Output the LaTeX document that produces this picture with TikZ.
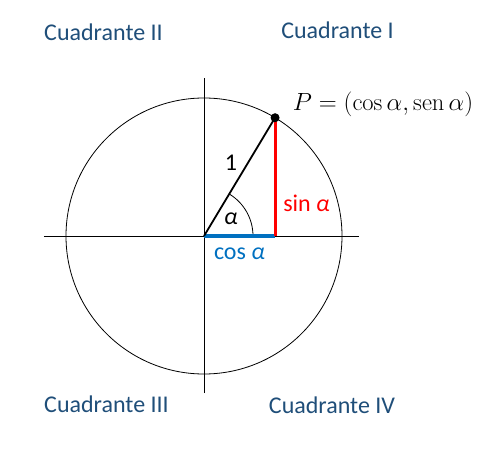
\documentclass[tikz,border=0pt]{standalone}
\usepackage{fontspec}
\newfontfamily\calib{Carlito}
\definecolor{quadblue}{HTML}{1F4E79}
\definecolor{cosblue}{HTML}{0070C0}
\definecolor{sinred}{HTML}{FF0000}
\begin{document}
\begin{tikzpicture}[x=1pt,y=1pt]
	\tikzset{quad/.style={font=\calib\fontsize{24}{28}\selectfont,text=quadblue,inner sep=0pt},
		lab/.style={font=\calib\fontsize{24}{28}\selectfont,inner sep=0pt}}
	\useasboundingbox (-204,-227) rectangle (291,236);
	\coordinate (O) at (0,0);
	\coordinate (P) at (59:138);
	\coordinate (F) at (P |- O);
	\coordinate (xl) at (-160,0);
	\coordinate (xr) at (155,0);
	\coordinate (yt) at (0,158);
	\coordinate (yb) at (0,-157);
	\draw[line width=0.8pt] (O) circle (138pt);
	\draw[line width=0.9pt] (xl) -- (xr);
	\draw[line width=0.9pt] (yb) -- (yt);
	\draw[line width=0.8pt] (O) ++(49pt,0) arc[start angle=0,end angle=59,radius=49pt];
	\draw[cosblue,line width=3pt] (O) -- (F);
	\draw[sinred,line width=3pt] (F) -- (P);
	\draw[line width=1.8pt] (O) -- (P);
	\node[circle,fill,inner sep=0pt,minimum size=9pt] (dot) at (P) {};
	\node[font=\fontsize{24.5}{28}\selectfont,inner sep=0pt] (ptxt) at (179,132) {$P=(\cos\alpha,\mathrm{sen}\,\alpha)$};
	\node[lab] (one) at (27,73) {1};
	\node[lab] (alf) at (27,17) {\itshape α};
	\node[lab,text=sinred] (sin) at (102.5,33) {sin \itshape α};
	\node[lab,text=cosblue] (cos) at (35.5,-18) {cos \itshape α};
	\foreach \x/\y/\n in {-100.5/204/II, 133.5/205.5/I, -97.5/-168.5/III, 128/-169/IV}{
		\node[quad] at (\x,\y) {Cuadrante \n};
	}
\end{tikzpicture}
\end{document}
